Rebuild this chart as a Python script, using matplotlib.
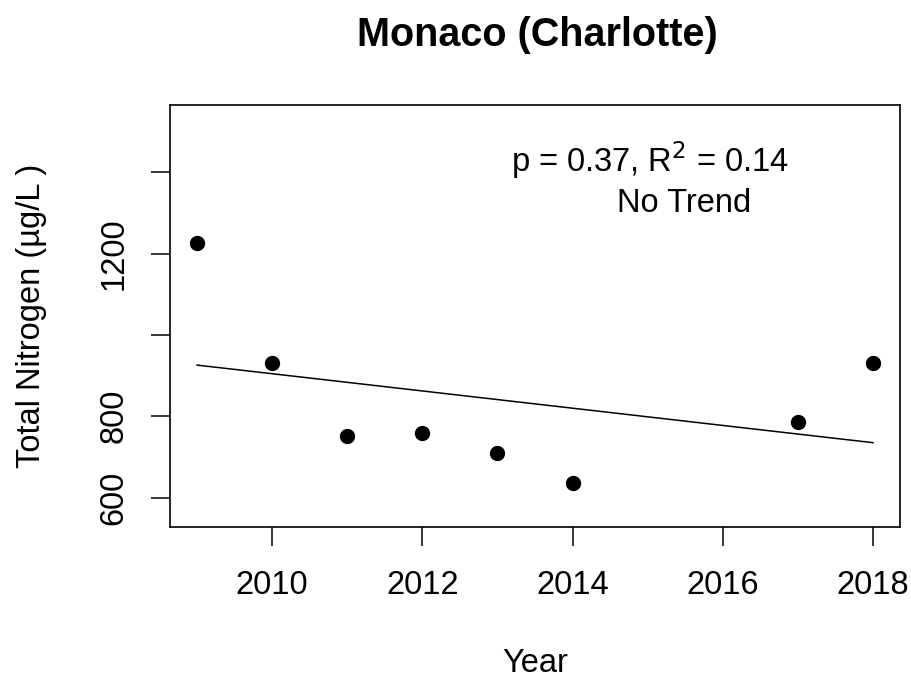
import numpy as np
import matplotlib
matplotlib.use("Agg")
import matplotlib.pyplot as plt

years = [2009, 2010, 2011, 2012, 2013, 2014, 2017, 2018]
tn = [1225, 931, 751, 760, 711, 635, 785, 931]
xticks = [2010, 2012, 2014, 2016, 2018]
yticks = [600, 800, 1000, 1200, 1400]
ylabels = ["600", "800", "", "1200", ""]

plt.rcParams['font.family'] = ['Liberation Sans', 'DejaVu Sans']
fs = 23.5

fig = plt.figure(figsize=(9.11, 6.79), dpi=100)
ax = fig.add_axes([170 / 911, 1 - 527 / 679, 730 / 911, 422 / 679])

# linear fit, drawn over the span of the data
slope, icpt = np.polyfit(years, tn, 1)
xs = np.array([min(years), max(years)])
ax.plot(xs, slope * xs + icpt, color='black', lw=1.1)
ax.plot(years, tn, 'o', color='black', markersize=10)

ax.set_xlim(2008.64, 2018.36)
ax.set_ylim(528, 1565)
ax.set_xticks(xticks)
ax.set_xticklabels([str(x) for x in xticks])
ax.set_yticks(yticks)
ax.set_yticklabels(ylabels, rotation=90, va='center')
ax.tick_params(direction='out', length=14, width=1.1, labelsize=fs, colors='black')
ax.tick_params(axis='x', pad=17)
ax.tick_params(axis='y', pad=15)
for s in ax.spines.values():
    s.set_linewidth(1.2)

ax.text(2015.03, 1430, r"p = 0.37, R$^2$ = 0.14", ha='center', va='center', fontsize=fs)
ax.text(2015.49, 1323, "No Trend", ha='center', va='center', fontsize=fs)

fig.text(537 / 911, 1 - 35 / 679, "Monaco (Charlotte)", ha='center', va='center',
         fontsize=28.5, fontweight='bold')
fig.text(535 / 911, 1 - 663 / 679, "Year", ha='center', va='center', fontsize=fs)
fig.text(32 / 911, 1 - 316 / 679, "Total Nitrogen (\u00b5g/L )", ha='center', va='center',
         rotation=90, fontsize=fs)

fig.savefig("out.png", dpi=100)
